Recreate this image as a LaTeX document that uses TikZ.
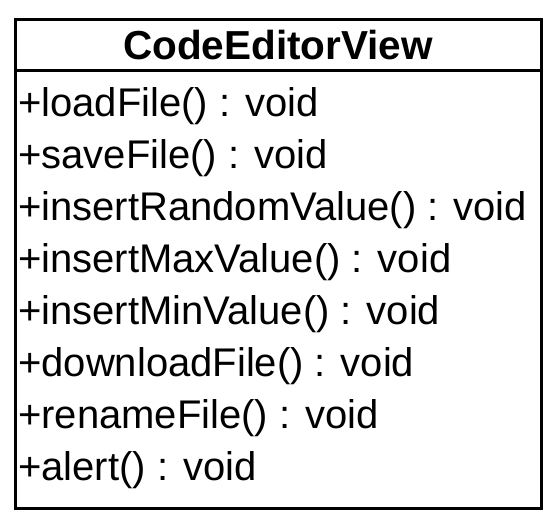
\documentclass[tikz,border=0pt]{standalone}
\usepackage{fontspec}
\setmainfont{Liberation Sans}
\begin{document}
\begin{tikzpicture}[x=1pt,y=-1pt,
  umlline/.style={line width=3pt,black},
  title/.style={font=\fontsize{40.5}{40.5}\selectfont\bfseries,inner sep=0pt,anchor=base},
  member/.style={font=\fontsize{40}{40}\selectfont,inner sep=0pt,anchor=base west}]
\useasboundingbox (0,0) rectangle (560,526);
\coordinate (tl) at (15,20);
\coordinate (br) at (541,509);
\draw[umlline] (tl) rectangle (br);
\coordinate (dl) at (15,71);
\coordinate (dr) at (541,71);
\draw[umlline] (dl) -- (dr);
\node[title] (name) at (278,60) {CodeEditorView};
\node[member] (m1) at (18,117) {+loadFile() : void};
\node[member] (m2) at (18,169) {+saveFile() : void};
\node[member] (m3) at (18,221) {+insertRandomValue() : void};
\node[member] (m4) at (18,273) {+insertMaxValue() : void};
\node[member] (m5) at (18,325) {+insertMinValue() : void};
\node[member] (m6) at (18,377) {+downloadFile() : void};
\node[member] (m7) at (18,429) {+renameFile() : void};
\node[member] (m8) at (18,481) {+alert() : void};
\end{tikzpicture}
\end{document}
